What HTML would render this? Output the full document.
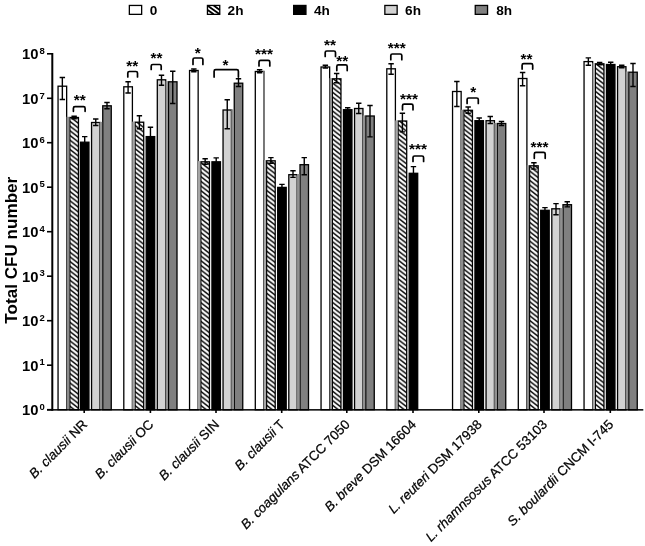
<!DOCTYPE html>
<html><head><meta charset="utf-8"><title>Total CFU number</title>
<style>html,body{margin:0;padding:0;background:#fff}body{width:645px;height:546px;overflow:hidden}</style></head>
<body>
<svg width="645" height="546" viewBox="0 0 645 546" style="display:block">
<defs><pattern id="hatch" patternUnits="userSpaceOnUse" width="6.0" height="4.67" patternTransform="translate(1.2 2.5)"><rect width="6.0" height="4.67" fill="#fff"/><path d="M-6.0 -4.67 L12.0 9.34 M-6.0 0 L12.0 14.01 M-6.0 -9.34 L12.0 4.67" stroke="#000" stroke-width="1.45"/></pattern></defs>
<rect width="645" height="546" fill="#fff"/>
<rect x="129.35" y="5.45" width="12.3" height="8.9" fill="#fff" stroke="#000" stroke-width="1.3"/>
<text x="149.7" y="14.75" font-family="Liberation Sans, Arial, Helvetica, sans-serif" font-size="13.6" font-weight="bold" fill="#000">0</text>
<rect x="207.45" y="5.45" width="12.3" height="8.9" fill="#fff" stroke="#000" stroke-width="1.3"/>
<path d="M207.7 5.7 L219.7 14.2 M207.7 10.0 L213.7 14.3 M213.7 5.6 L219.7 9.9" stroke="#000" stroke-width="1.8"/>
<text x="227.6" y="14.75" font-family="Liberation Sans, Arial, Helvetica, sans-serif" font-size="13.6" font-weight="bold" fill="#000">2h</text>
<rect x="293.65" y="5.45" width="12.3" height="8.9" fill="#000" stroke="#000" stroke-width="1.3"/>
<text x="314.0" y="14.75" font-family="Liberation Sans, Arial, Helvetica, sans-serif" font-size="13.6" font-weight="bold" fill="#000">4h</text>
<rect x="384.85" y="5.45" width="12.3" height="8.9" fill="#d2d2d2" stroke="#000" stroke-width="1.3"/>
<text x="405.1" y="14.75" font-family="Liberation Sans, Arial, Helvetica, sans-serif" font-size="13.6" font-weight="bold" fill="#000">6h</text>
<rect x="475.25" y="5.45" width="12.3" height="8.9" fill="#808080" stroke="#000" stroke-width="1.3"/>
<text x="496.3" y="14.75" font-family="Liberation Sans, Arial, Helvetica, sans-serif" font-size="13.6" font-weight="bold" fill="#000">8h</text>
<rect x="58.05" y="86.2" width="8.60" height="323.5" fill="#fff" stroke="#000" stroke-width="1.3"/>
<rect x="69.85" y="117.5" width="8.60" height="292.3" fill="url(#hatch)" stroke="#000" stroke-width="1.3"/>
<rect x="80.45" y="142.2" width="8.50" height="267.6" fill="#000" stroke="#000" stroke-width="1.3"/>
<rect x="91.55" y="122.5" width="8.40" height="287.2" fill="#d2d2d2" stroke="#000" stroke-width="1.3"/>
<rect x="102.75" y="105.8" width="8.50" height="303.9" fill="#808080" stroke="#000" stroke-width="1.3"/>
<rect x="66.50" y="116.8" width="2.80" height="292.3" fill="#8c8c8c"/>
<rect x="99.80" y="121.9" width="2.40" height="287.2" fill="#909090"/>
<path d="M62.35 77.5 V99.5 M59.65 77.5 H65.05 M59.65 99.5 H65.05" stroke="#000" stroke-width="1.4" fill="none"/>
<path d="M74.15 116.2 V118.8 M71.45 116.2 H76.85 M71.45 118.8 H76.85" stroke="#000" stroke-width="1.4" fill="none"/>
<path d="M84.70 136.6 V142.2 M82.00 136.6 H87.40" stroke="#000" stroke-width="1.4" fill="none"/>
<path d="M95.75 119.0 V125.5 M93.05 119.0 H98.45 M93.05 125.5 H98.45" stroke="#000" stroke-width="1.4" fill="none"/>
<path d="M107.00 102.5 V108.7 M104.30 102.5 H109.70 M104.30 108.7 H109.70" stroke="#000" stroke-width="1.4" fill="none"/>
<rect x="123.80" y="86.8" width="8.60" height="323.0" fill="#fff" stroke="#000" stroke-width="1.3"/>
<rect x="135.10" y="122.2" width="8.60" height="287.5" fill="url(#hatch)" stroke="#000" stroke-width="1.3"/>
<rect x="146.20" y="136.6" width="8.50" height="273.2" fill="#000" stroke="#000" stroke-width="1.3"/>
<rect x="157.30" y="79.8" width="8.40" height="330.0" fill="#d2d2d2" stroke="#000" stroke-width="1.3"/>
<rect x="168.50" y="81.8" width="8.50" height="328.0" fill="#808080" stroke="#000" stroke-width="1.3"/>
<rect x="132.25" y="121.6" width="2.30" height="287.5" fill="#a6a6a6"/>
<rect x="165.55" y="81.1" width="2.40" height="328.0" fill="#909090"/>
<path d="M128.10 81.8 V93.0 M125.40 81.8 H130.80 M125.40 93.0 H130.80" stroke="#000" stroke-width="1.4" fill="none"/>
<path d="M139.40 115.8 V128.8 M136.70 115.8 H142.10 M136.70 128.8 H142.10" stroke="#000" stroke-width="1.4" fill="none"/>
<path d="M150.45 127.2 V136.6 M147.75 127.2 H153.15" stroke="#000" stroke-width="1.4" fill="none"/>
<path d="M161.50 75.3 V85.2 M158.80 75.3 H164.20 M158.80 85.2 H164.20" stroke="#000" stroke-width="1.4" fill="none"/>
<path d="M172.75 71.2 V103.5 M170.05 71.2 H175.45 M170.05 103.5 H175.45" stroke="#000" stroke-width="1.4" fill="none"/>
<rect x="189.55" y="70.5" width="8.60" height="339.2" fill="#fff" stroke="#000" stroke-width="1.3"/>
<rect x="200.85" y="161.8" width="8.60" height="248.0" fill="url(#hatch)" stroke="#000" stroke-width="1.3"/>
<rect x="211.95" y="161.8" width="8.50" height="248.0" fill="#000" stroke="#000" stroke-width="1.3"/>
<rect x="223.05" y="110.0" width="8.40" height="299.8" fill="#d2d2d2" stroke="#000" stroke-width="1.3"/>
<rect x="234.25" y="83.2" width="8.50" height="326.5" fill="#808080" stroke="#000" stroke-width="1.3"/>
<rect x="198.00" y="161.1" width="2.30" height="248.0" fill="#a6a6a6"/>
<rect x="231.30" y="109.3" width="2.40" height="299.8" fill="#909090"/>
<path d="M193.85 69.0 V71.8 M191.15 69.0 H196.55 M191.15 71.8 H196.55" stroke="#000" stroke-width="1.4" fill="none"/>
<path d="M205.15 158.8 V164.2 M202.45 158.8 H207.85 M202.45 164.2 H207.85" stroke="#000" stroke-width="1.4" fill="none"/>
<path d="M216.20 157.9 V161.8 M213.50 157.9 H218.90" stroke="#000" stroke-width="1.4" fill="none"/>
<path d="M227.25 99.8 V128.8 M224.55 99.8 H229.95 M224.55 128.8 H229.95" stroke="#000" stroke-width="1.4" fill="none"/>
<path d="M238.50 78.8 V86.5 M235.80 78.8 H241.20 M235.80 86.5 H241.20" stroke="#000" stroke-width="1.4" fill="none"/>
<rect x="255.30" y="71.5" width="8.60" height="338.3" fill="#fff" stroke="#000" stroke-width="1.3"/>
<rect x="266.60" y="160.8" width="8.60" height="249.0" fill="url(#hatch)" stroke="#000" stroke-width="1.3"/>
<rect x="277.70" y="187.4" width="8.50" height="222.3" fill="#000" stroke="#000" stroke-width="1.3"/>
<rect x="288.80" y="174.7" width="8.40" height="235.1" fill="#d2d2d2" stroke="#000" stroke-width="1.3"/>
<rect x="300.00" y="164.7" width="8.50" height="245.1" fill="#808080" stroke="#000" stroke-width="1.3"/>
<rect x="263.15" y="70.8" width="1.5" height="89.3" fill="#808080"/>
<rect x="263.75" y="160.1" width="2.30" height="249.0" fill="#a6a6a6"/>
<rect x="297.05" y="174.0" width="2.40" height="235.1" fill="#909090"/>
<path d="M259.60 69.8 V72.7 M256.90 69.8 H262.30 M256.90 72.7 H262.30" stroke="#000" stroke-width="1.4" fill="none"/>
<path d="M270.90 157.6 V163.2 M268.20 157.6 H273.60 M268.20 163.2 H273.60" stroke="#000" stroke-width="1.4" fill="none"/>
<path d="M281.95 184.4 V187.4 M279.25 184.4 H284.65" stroke="#000" stroke-width="1.4" fill="none"/>
<path d="M293.00 170.8 V177.4 M290.30 170.8 H295.70 M290.30 177.4 H295.70" stroke="#000" stroke-width="1.4" fill="none"/>
<path d="M304.25 157.6 V174.7 M301.55 157.6 H306.95 M301.55 174.7 H306.95" stroke="#000" stroke-width="1.4" fill="none"/>
<rect x="321.05" y="67.0" width="8.60" height="342.7" fill="#fff" stroke="#000" stroke-width="1.3"/>
<rect x="332.35" y="78.8" width="8.60" height="330.9" fill="url(#hatch)" stroke="#000" stroke-width="1.3"/>
<rect x="343.45" y="109.7" width="8.50" height="300.1" fill="#000" stroke="#000" stroke-width="1.3"/>
<rect x="354.55" y="108.5" width="8.40" height="301.2" fill="#d2d2d2" stroke="#000" stroke-width="1.3"/>
<rect x="365.75" y="116.0" width="8.50" height="293.7" fill="#808080" stroke="#000" stroke-width="1.3"/>
<rect x="329.50" y="78.2" width="2.30" height="330.9" fill="#8c8c8c"/>
<rect x="362.80" y="115.4" width="2.40" height="293.7" fill="#909090"/>
<path d="M325.35 65.2 V68.0 M322.65 65.2 H328.05 M322.65 68.0 H328.05" stroke="#000" stroke-width="1.4" fill="none"/>
<path d="M336.65 73.5 V82.7 M333.95 73.5 H339.35 M333.95 82.7 H339.35" stroke="#000" stroke-width="1.4" fill="none"/>
<path d="M347.70 107.7 V109.7 M345.00 107.7 H350.40" stroke="#000" stroke-width="1.4" fill="none"/>
<path d="M358.75 103.2 V113.5 M356.05 103.2 H361.45 M356.05 113.5 H361.45" stroke="#000" stroke-width="1.4" fill="none"/>
<path d="M370.00 105.5 V136.9 M367.30 105.5 H372.70 M367.30 136.9 H372.70" stroke="#000" stroke-width="1.4" fill="none"/>
<rect x="386.80" y="68.8" width="8.60" height="340.9" fill="#fff" stroke="#000" stroke-width="1.3"/>
<rect x="398.10" y="121.0" width="8.60" height="288.7" fill="url(#hatch)" stroke="#000" stroke-width="1.3"/>
<rect x="409.20" y="173.3" width="8.50" height="236.4" fill="#000" stroke="#000" stroke-width="1.3"/>
<rect x="395.25" y="120.4" width="2.30" height="288.7" fill="#a6a6a6"/>
<path d="M391.10 63.8 V74.3 M388.40 63.8 H393.80 M388.40 74.3 H393.80" stroke="#000" stroke-width="1.4" fill="none"/>
<path d="M402.40 113.2 V131.9 M399.70 113.2 H405.10 M399.70 131.9 H405.10" stroke="#000" stroke-width="1.4" fill="none"/>
<path d="M413.45 166.6 V173.3 M410.75 166.6 H416.15" stroke="#000" stroke-width="1.4" fill="none"/>
<rect x="452.55" y="91.5" width="8.60" height="318.2" fill="#fff" stroke="#000" stroke-width="1.3"/>
<rect x="463.85" y="110.3" width="8.60" height="299.4" fill="url(#hatch)" stroke="#000" stroke-width="1.3"/>
<rect x="474.95" y="120.7" width="8.50" height="289.1" fill="#000" stroke="#000" stroke-width="1.3"/>
<rect x="486.05" y="120.7" width="8.40" height="289.1" fill="#d2d2d2" stroke="#000" stroke-width="1.3"/>
<rect x="497.25" y="123.5" width="8.50" height="286.2" fill="#808080" stroke="#000" stroke-width="1.3"/>
<rect x="461.00" y="109.7" width="2.30" height="299.4" fill="#8c8c8c"/>
<rect x="494.30" y="122.9" width="2.40" height="286.2" fill="#909090"/>
<path d="M456.85 81.5 V106.5 M454.15 81.5 H459.55 M454.15 106.5 H459.55" stroke="#000" stroke-width="1.4" fill="none"/>
<path d="M468.15 107.0 V113.2 M465.45 107.0 H470.85 M465.45 113.2 H470.85" stroke="#000" stroke-width="1.4" fill="none"/>
<path d="M479.20 118.0 V120.7 M476.50 118.0 H481.90" stroke="#000" stroke-width="1.4" fill="none"/>
<path d="M490.25 116.5 V123.5 M487.55 116.5 H492.95 M487.55 123.5 H492.95" stroke="#000" stroke-width="1.4" fill="none"/>
<path d="M501.50 121.5 V125.5 M498.80 121.5 H504.20 M498.80 125.5 H504.20" stroke="#000" stroke-width="1.4" fill="none"/>
<rect x="518.30" y="78.5" width="8.60" height="331.3" fill="#fff" stroke="#000" stroke-width="1.3"/>
<rect x="529.60" y="165.8" width="8.60" height="243.9" fill="url(#hatch)" stroke="#000" stroke-width="1.3"/>
<rect x="540.70" y="210.3" width="8.50" height="199.4" fill="#000" stroke="#000" stroke-width="1.3"/>
<rect x="551.80" y="208.8" width="8.40" height="201.0" fill="#d2d2d2" stroke="#000" stroke-width="1.3"/>
<rect x="563.00" y="204.7" width="8.50" height="205.1" fill="#808080" stroke="#000" stroke-width="1.3"/>
<rect x="526.75" y="165.2" width="2.30" height="243.9" fill="#8c8c8c"/>
<rect x="560.05" y="208.1" width="2.40" height="201.0" fill="#909090"/>
<path d="M522.60 72.5 V85.8 M519.90 72.5 H525.30 M519.90 85.8 H525.30" stroke="#000" stroke-width="1.4" fill="none"/>
<path d="M533.90 162.7 V169.1 M531.20 162.7 H536.60 M531.20 169.1 H536.60" stroke="#000" stroke-width="1.4" fill="none"/>
<path d="M544.95 207.6 V210.3 M542.25 207.6 H547.65" stroke="#000" stroke-width="1.4" fill="none"/>
<path d="M556.00 203.6 V214.8 M553.30 203.6 H558.70 M553.30 214.8 H558.70" stroke="#000" stroke-width="1.4" fill="none"/>
<path d="M567.25 201.8 V206.9 M564.55 201.8 H569.95 M564.55 206.9 H569.95" stroke="#000" stroke-width="1.4" fill="none"/>
<rect x="584.05" y="61.6" width="8.60" height="348.1" fill="#fff" stroke="#000" stroke-width="1.3"/>
<rect x="595.35" y="63.8" width="8.60" height="346.0" fill="url(#hatch)" stroke="#000" stroke-width="1.3"/>
<rect x="606.45" y="64.5" width="8.50" height="345.3" fill="#000" stroke="#000" stroke-width="1.3"/>
<rect x="617.55" y="66.7" width="8.40" height="343.1" fill="#d2d2d2" stroke="#000" stroke-width="1.3"/>
<rect x="628.75" y="72.2" width="8.50" height="337.6" fill="#808080" stroke="#000" stroke-width="1.3"/>
<rect x="592.50" y="63.1" width="2.30" height="346.0" fill="#a6a6a6"/>
<rect x="625.80" y="71.5" width="2.40" height="337.6" fill="#909090"/>
<path d="M588.35 57.9 V65.2 M585.65 57.9 H591.05 M585.65 65.2 H591.05" stroke="#000" stroke-width="1.4" fill="none"/>
<path d="M599.65 62.5 V64.8 M596.95 62.5 H602.35 M596.95 64.8 H602.35" stroke="#000" stroke-width="1.4" fill="none"/>
<path d="M610.70 62.2 V64.5 M608.00 62.2 H613.40" stroke="#000" stroke-width="1.4" fill="none"/>
<path d="M621.75 65.2 V67.8 M619.05 65.2 H624.45 M619.05 67.8 H624.45" stroke="#000" stroke-width="1.4" fill="none"/>
<path d="M633.00 63.5 V86.5 M630.30 63.5 H635.70 M630.30 86.5 H635.70" stroke="#000" stroke-width="1.4" fill="none"/>
<rect x="51.3" y="53.0" width="2" height="357.8" fill="#000"/>
<rect x="47" y="409.1" width="596.3" height="1.5" fill="#000"/>
<rect x="47" y="408.9" width="5" height="1.6" fill="#000"/>
<text x="22.0" y="415.1" font-family="Liberation Sans, Arial, Helvetica, sans-serif" font-size="14.8" font-weight="bold" fill="#000">10</text>
<text x="39.5" y="409.9" font-family="Liberation Sans, Arial, Helvetica, sans-serif" font-size="9.5" font-weight="bold" fill="#000">0</text>
<rect x="47" y="364.4" width="5" height="1.6" fill="#000"/>
<text x="22.0" y="370.6" font-family="Liberation Sans, Arial, Helvetica, sans-serif" font-size="14.8" font-weight="bold" fill="#000">10</text>
<text x="39.5" y="365.4" font-family="Liberation Sans, Arial, Helvetica, sans-serif" font-size="9.5" font-weight="bold" fill="#000">1</text>
<rect x="47" y="319.9" width="5" height="1.6" fill="#000"/>
<text x="22.0" y="326.1" font-family="Liberation Sans, Arial, Helvetica, sans-serif" font-size="14.8" font-weight="bold" fill="#000">10</text>
<text x="39.5" y="320.9" font-family="Liberation Sans, Arial, Helvetica, sans-serif" font-size="9.5" font-weight="bold" fill="#000">2</text>
<rect x="47" y="275.4" width="5" height="1.6" fill="#000"/>
<text x="22.0" y="281.6" font-family="Liberation Sans, Arial, Helvetica, sans-serif" font-size="14.8" font-weight="bold" fill="#000">10</text>
<text x="39.5" y="276.4" font-family="Liberation Sans, Arial, Helvetica, sans-serif" font-size="9.5" font-weight="bold" fill="#000">3</text>
<rect x="47" y="230.9" width="5" height="1.6" fill="#000"/>
<text x="22.0" y="237.1" font-family="Liberation Sans, Arial, Helvetica, sans-serif" font-size="14.8" font-weight="bold" fill="#000">10</text>
<text x="39.5" y="231.9" font-family="Liberation Sans, Arial, Helvetica, sans-serif" font-size="9.5" font-weight="bold" fill="#000">4</text>
<rect x="47" y="186.4" width="5" height="1.6" fill="#000"/>
<text x="22.0" y="192.6" font-family="Liberation Sans, Arial, Helvetica, sans-serif" font-size="14.8" font-weight="bold" fill="#000">10</text>
<text x="39.5" y="187.4" font-family="Liberation Sans, Arial, Helvetica, sans-serif" font-size="9.5" font-weight="bold" fill="#000">5</text>
<rect x="47" y="141.9" width="5" height="1.6" fill="#000"/>
<text x="22.0" y="148.1" font-family="Liberation Sans, Arial, Helvetica, sans-serif" font-size="14.8" font-weight="bold" fill="#000">10</text>
<text x="39.5" y="142.9" font-family="Liberation Sans, Arial, Helvetica, sans-serif" font-size="9.5" font-weight="bold" fill="#000">6</text>
<rect x="47" y="97.5" width="5" height="1.6" fill="#000"/>
<text x="22.0" y="103.5" font-family="Liberation Sans, Arial, Helvetica, sans-serif" font-size="14.8" font-weight="bold" fill="#000">10</text>
<text x="39.5" y="98.5" font-family="Liberation Sans, Arial, Helvetica, sans-serif" font-size="9.5" font-weight="bold" fill="#000">7</text>
<rect x="47" y="53.0" width="5" height="1.6" fill="#000"/>
<text x="22.0" y="59.0" font-family="Liberation Sans, Arial, Helvetica, sans-serif" font-size="14.8" font-weight="bold" fill="#000">10</text>
<text x="39.5" y="54.0" font-family="Liberation Sans, Arial, Helvetica, sans-serif" font-size="9.5" font-weight="bold" fill="#000">8</text>
<rect x="83.4" y="409.8" width="1.6" height="3.2" fill="#000"/>
<rect x="149.6" y="409.8" width="1.6" height="3.2" fill="#000"/>
<rect x="215.2" y="409.8" width="1.6" height="3.2" fill="#000"/>
<rect x="280.9" y="409.8" width="1.6" height="3.2" fill="#000"/>
<rect x="346.0" y="409.8" width="1.6" height="3.2" fill="#000"/>
<rect x="412.2" y="409.8" width="1.6" height="3.2" fill="#000"/>
<rect x="478.0" y="409.8" width="1.6" height="3.2" fill="#000"/>
<rect x="543.2" y="409.8" width="1.6" height="3.2" fill="#000"/>
<rect x="609.5" y="409.8" width="1.6" height="3.2" fill="#000"/>
<text transform="translate(16.9 250.2) rotate(-90)" text-anchor="middle" font-family="Liberation Sans, Arial, Helvetica, sans-serif" font-size="17.1" font-weight="bold" fill="#000">Total CFU number</text>
<text transform="translate(88.1 425.3) rotate(-45)" text-anchor="end" font-family="Liberation Sans, Arial, Helvetica, sans-serif" font-size="13.25" fill="#000" stroke="#000" stroke-width="0.25" xml:space="preserve"><tspan font-style="italic">B. clausii</tspan> NR</text>
<text transform="translate(154.3 425.3) rotate(-45)" text-anchor="end" font-family="Liberation Sans, Arial, Helvetica, sans-serif" font-size="13.25" fill="#000" stroke="#000" stroke-width="0.25" xml:space="preserve"><tspan font-style="italic">B. clausii</tspan> OC</text>
<text transform="translate(219.9 425.3) rotate(-45)" text-anchor="end" font-family="Liberation Sans, Arial, Helvetica, sans-serif" font-size="13.25" fill="#000" stroke="#000" stroke-width="0.25" xml:space="preserve"><tspan font-style="italic">B. clausii</tspan> SIN</text>
<text transform="translate(285.6 425.3) rotate(-45)" text-anchor="end" font-family="Liberation Sans, Arial, Helvetica, sans-serif" font-size="13.25" fill="#000" stroke="#000" stroke-width="0.25" xml:space="preserve"><tspan font-style="italic">B. clausii</tspan> T</text>
<text transform="translate(350.7 425.3) rotate(-45)" text-anchor="end" font-family="Liberation Sans, Arial, Helvetica, sans-serif" font-size="13.25" fill="#000" stroke="#000" stroke-width="0.25" xml:space="preserve"><tspan font-style="italic">B. coagulans</tspan> ATCC 7050</text>
<text transform="translate(416.9 425.3) rotate(-45)" text-anchor="end" font-family="Liberation Sans, Arial, Helvetica, sans-serif" font-size="13.25" fill="#000" stroke="#000" stroke-width="0.25" xml:space="preserve"><tspan font-style="italic">B. breve</tspan> DSM 16604</text>
<text transform="translate(482.7 425.3) rotate(-45)" text-anchor="end" font-family="Liberation Sans, Arial, Helvetica, sans-serif" font-size="13.25" fill="#000" stroke="#000" stroke-width="0.25" xml:space="preserve"><tspan font-style="italic">L. reuteri</tspan> DSM 17938</text>
<text transform="translate(547.9 425.3) rotate(-45)" text-anchor="end" font-family="Liberation Sans, Arial, Helvetica, sans-serif" font-size="13.25" fill="#000" stroke="#000" stroke-width="0.25" xml:space="preserve"><tspan font-style="italic">L. rhamnsosus</tspan> ATCC 53103</text>
<text transform="translate(614.2 425.3) rotate(-45)" text-anchor="end" font-family="Liberation Sans, Arial, Helvetica, sans-serif" font-size="13.25" fill="#000" stroke="#000" stroke-width="0.25" xml:space="preserve"><tspan font-style="italic">S. boulardii</tspan> CNCM I-745</text>
<path d="M73.4 111.3 V108.2 Q73.4 106.6 75.0 106.6 H83.5 Q85.1 106.6 85.1 108.2 V111.3" stroke="#000" stroke-width="1.7" stroke-linecap="round" fill="none"/>
<text x="79.7" y="105.1" text-anchor="middle" font-family="Liberation Sans, Arial, Helvetica, sans-serif" font-size="15.4" font-weight="bold" fill="#000">**</text>
<path d="M127.8 77.0 V73.1 Q127.8 71.5 129.4 71.5 H135.9 Q137.5 71.5 137.5 73.1 V77.0" stroke="#000" stroke-width="1.7" stroke-linecap="round" fill="none"/>
<text x="132.2" y="71.1" text-anchor="middle" font-family="Liberation Sans, Arial, Helvetica, sans-serif" font-size="15.4" font-weight="bold" fill="#000">**</text>
<path d="M151.2 69.5 V66.1 Q151.2 64.5 152.8 64.5 H159.6 Q161.2 64.5 161.2 66.1 V69.5" stroke="#000" stroke-width="1.7" stroke-linecap="round" fill="none"/>
<text x="156.5" y="63.4" text-anchor="middle" font-family="Liberation Sans, Arial, Helvetica, sans-serif" font-size="15.4" font-weight="bold" fill="#000">**</text>
<path d="M193.0 64.5 V59.6 Q193.0 58.0 194.6 58.0 H201.3 Q202.9 58.0 202.9 59.6 V64.5" stroke="#000" stroke-width="1.7" stroke-linecap="round" fill="none"/>
<text x="197.7" y="58.1" text-anchor="middle" font-family="Liberation Sans, Arial, Helvetica, sans-serif" font-size="15.4" font-weight="bold" fill="#000">*</text>
<path d="M214.1 77.1 V71.3 Q214.1 69.7 215.7 69.7 H236.8 Q238.4 69.7 238.4 71.3 V77.1" stroke="#000" stroke-width="1.7" stroke-linecap="round" fill="none"/>
<text x="225.5" y="70.2" text-anchor="middle" font-family="Liberation Sans, Arial, Helvetica, sans-serif" font-size="15.4" font-weight="bold" fill="#000">*</text>
<path d="M259.0 65.9 V61.9 Q259.0 60.3 260.6 60.3 H268.2 Q269.8 60.3 269.8 61.9 V65.9" stroke="#000" stroke-width="1.7" stroke-linecap="round" fill="none"/>
<text x="264.0" y="58.7" text-anchor="middle" font-family="Liberation Sans, Arial, Helvetica, sans-serif" font-size="15.4" font-weight="bold" fill="#000">***</text>
<path d="M325.2 56.5 V52.6 Q325.2 51.0 326.8 51.0 H333.9 Q335.5 51.0 335.5 52.6 V56.5" stroke="#000" stroke-width="1.7" stroke-linecap="round" fill="none"/>
<text x="330.1" y="50.2" text-anchor="middle" font-family="Liberation Sans, Arial, Helvetica, sans-serif" font-size="15.4" font-weight="bold" fill="#000">**</text>
<path d="M336.8 70.6 V66.5 Q336.8 64.9 338.4 64.9 H345.6 Q347.2 64.9 347.2 66.5 V70.6" stroke="#000" stroke-width="1.7" stroke-linecap="round" fill="none"/>
<text x="342.3" y="65.9" text-anchor="middle" font-family="Liberation Sans, Arial, Helvetica, sans-serif" font-size="15.4" font-weight="bold" fill="#000">**</text>
<path d="M390.8 59.7 V55.6 Q390.8 54.0 392.4 54.0 H400.2 Q401.8 54.0 401.8 55.6 V59.7" stroke="#000" stroke-width="1.7" stroke-linecap="round" fill="none"/>
<text x="396.8" y="53.4" text-anchor="middle" font-family="Liberation Sans, Arial, Helvetica, sans-serif" font-size="15.4" font-weight="bold" fill="#000">***</text>
<path d="M402.5 109.8 V105.7 Q402.5 104.1 404.1 104.1 H411.4 Q413.0 104.1 413.0 105.7 V109.8" stroke="#000" stroke-width="1.7" stroke-linecap="round" fill="none"/>
<text x="409.0" y="103.6" text-anchor="middle" font-family="Liberation Sans, Arial, Helvetica, sans-serif" font-size="15.4" font-weight="bold" fill="#000">***</text>
<path d="M413.0 161.5 V157.6 Q413.0 156.0 414.6 156.0 H422.0 Q423.6 156.0 423.6 157.6 V161.5" stroke="#000" stroke-width="1.7" stroke-linecap="round" fill="none"/>
<text x="418.0" y="154.3" text-anchor="middle" font-family="Liberation Sans, Arial, Helvetica, sans-serif" font-size="15.4" font-weight="bold" fill="#000">***</text>
<path d="M467.1 103.5 V99.6 Q467.1 98.0 468.7 98.0 H476.7 Q478.3 98.0 478.3 99.6 V103.5" stroke="#000" stroke-width="1.7" stroke-linecap="round" fill="none"/>
<text x="473.3" y="97.2" text-anchor="middle" font-family="Liberation Sans, Arial, Helvetica, sans-serif" font-size="15.4" font-weight="bold" fill="#000">*</text>
<path d="M522.1 69.1 V65.3 Q522.1 63.7 523.7 63.7 H531.1 Q532.7 63.7 532.7 65.3 V69.1" stroke="#000" stroke-width="1.7" stroke-linecap="round" fill="none"/>
<text x="526.5" y="63.6" text-anchor="middle" font-family="Liberation Sans, Arial, Helvetica, sans-serif" font-size="15.4" font-weight="bold" fill="#000">**</text>
<path d="M534.3 158.3 V154.0 Q534.3 152.4 535.9 152.4 H543.6 Q545.2 152.4 545.2 154.0 V158.3" stroke="#000" stroke-width="1.7" stroke-linecap="round" fill="none"/>
<text x="539.4" y="152.3" text-anchor="middle" font-family="Liberation Sans, Arial, Helvetica, sans-serif" font-size="15.4" font-weight="bold" fill="#000">***</text>
</svg>
</body></html>
